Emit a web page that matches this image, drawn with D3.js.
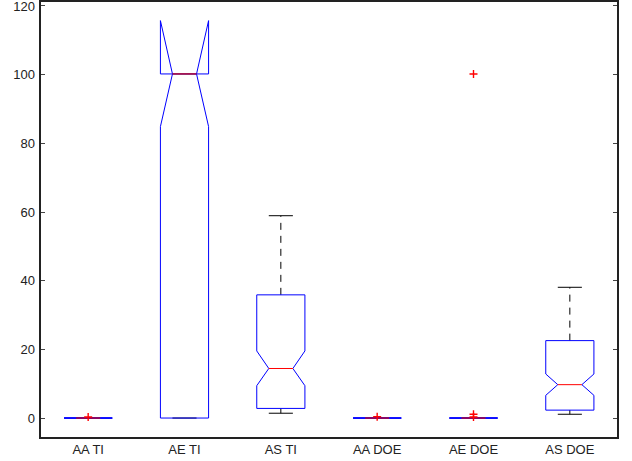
<!DOCTYPE html>
<html>
<head>
<meta charset="utf-8">
<script src="https://d3js.org/d3.v7.min.js"></script>
<style>
  body { margin: 0; background: #fff; }
  text { font-family: "Liberation Sans", Arial, sans-serif; font-size: 13px; fill: #222; }
</style>
</head>
<body>
<svg id="chart" width="632" height="461"></svg>
<script>
// group labels
const categories = ["AA TI", "AE TI", "AS TI", "AA DOE", "AE DOE", "AS DOE"];
// box statistics
const q1       = [0,   0,     2.8,  0,   0,   2.3];
const q3       = [0,   100,   35.8, 0,   0,   22.5];
const medians  = [0,   100,   14.4, 0,   0,   9.7];
const notchLo  = [0,   84.7,  9.4,  0,   0,   6.6];
const notchHi  = [0,   115.5, 19.5, 0,   0,   12.8];
const whiskLo  = [0,   0,     1.4,  0,   0,   1.1];
const whiskHi  = [0,   100,   58.8, 0,   0,   38.0];
const outliers = [[0.3], [], [], [0.4], [100, 1.1, 0.3], []];
const yTicks = [0, 20, 40, 60, 80, 100, 120];

const svg = d3.select("#chart");
const plotLeft = 40, plotRight = 618, plotTop = 1, plotBottom = 438;

const x = d3.scaleLinear().domain([0.5, 6.5]).range([plotLeft, plotRight]);
const y = d3.scaleLinear().domain([-5.8, 121.2]).range([plotBottom, plotTop]);

const boxHalf = 0.25, notchHalf = 0.125, capHalf = 0.125;

const data = categories.map((c, i) => ({
    name: c, pos: i + 1,
    q1: q1[i], q3: q3[i], med: medians[i],
    nlo: notchLo[i], nhi: notchHi[i],
    wlo: whiskLo[i], whi: whiskHi[i],
    out: outliers[i]
}));

const g = svg.append("g");

// whiskers (dashed)
data.forEach(d => {
    if (d.whi > d.q3) {
        g.append("line")
            .attr("x1", x(d.pos)).attr("x2", x(d.pos))
            .attr("y1", y(d.q3)).attr("y2", y(d.whi))
            .attr("stroke", "#000").attr("stroke-dasharray", "7,6");
    }
    if (d.wlo < d.q1) {
        g.append("line")
            .attr("x1", x(d.pos)).attr("x2", x(d.pos))
            .attr("y1", y(d.q1)).attr("y2", y(d.wlo))
            .attr("stroke", "#000").attr("stroke-dasharray", "7,6");
    }
    // caps
    [d.wlo, d.whi].forEach(v => {
        g.append("line")
            .attr("x1", x(d.pos - capHalf)).attr("x2", x(d.pos + capHalf))
            .attr("y1", y(v)).attr("y2", y(v))
            .attr("stroke", "#000");
    });
});

// notched boxes
data.forEach(d => {
    const pts = [
        [d.pos - boxHalf, d.q1], [d.pos - boxHalf, d.nlo], [d.pos - notchHalf, d.med],
        [d.pos - boxHalf, d.nhi], [d.pos - boxHalf, d.q3], [d.pos + boxHalf, d.q3],
        [d.pos + boxHalf, d.nhi], [d.pos + notchHalf, d.med], [d.pos + boxHalf, d.nlo],
        [d.pos + boxHalf, d.q1]
    ];
    g.append("path")
        .attr("d", d3.line().x(p => x(p[0])).y(p => y(p[1]))(pts) + "Z")
        .attr("fill", "none").attr("stroke", "#0000ff");
});

// medians
g.selectAll("line.median")
    .data(data)
    .enter()
    .append("line")
    .attr("class", "median")
    .attr("x1", d => x(d.pos - notchHalf)).attr("x2", d => x(d.pos + notchHalf))
    .attr("y1", d => y(d.med)).attr("y2", d => y(d.med))
    .attr("stroke", "#ff0000");

// outliers as red plus signs
data.forEach(d => {
    d.out.forEach(v => {
        const cx = x(d.pos), cy = y(v);
        g.append("path")
            .attr("d", `M${cx - 4},${cy}H${cx + 4}M${cx},${cy - 4}V${cy + 4}`)
            .attr("stroke", "#ff0000").attr("stroke-width", 1.4).attr("fill", "none");
    });
});

// y axis ticks (inward, both sides)
yTicks.forEach(t => {
    const ty = Math.round(y(t)) + 0.5;
    svg.append("line").attr("x1", plotLeft).attr("x2", plotLeft + 5).attr("y1", ty).attr("y2", ty).attr("stroke", "#444");
    svg.append("line").attr("x1", plotRight - 5).attr("x2", plotRight).attr("y1", ty).attr("y2", ty).attr("stroke", "#444");
    svg.append("text")
        .attr("x", plotLeft - 5).attr("y", Math.max(ty, 6.5)) // keep top label inside the page
        .attr("dy", "0.35em").attr("text-anchor", "end")
        .text(t);
});

// category labels
svg.selectAll("text.cat")
    .data(data)
    .enter()
    .append("text")
    .attr("class", "cat")
    .attr("x", d => x(d.pos)).attr("y", 454)
    .attr("text-anchor", "middle")
    .text(d => d.name);

// axes frame
svg.append("rect")
    .attr("x", plotLeft).attr("y", plotTop)
    .attr("width", plotRight - plotLeft).attr("height", plotBottom - plotTop)
    .attr("fill", "none").attr("stroke", "#222").attr("stroke-width", 2);
</script>
</body>
</html>
